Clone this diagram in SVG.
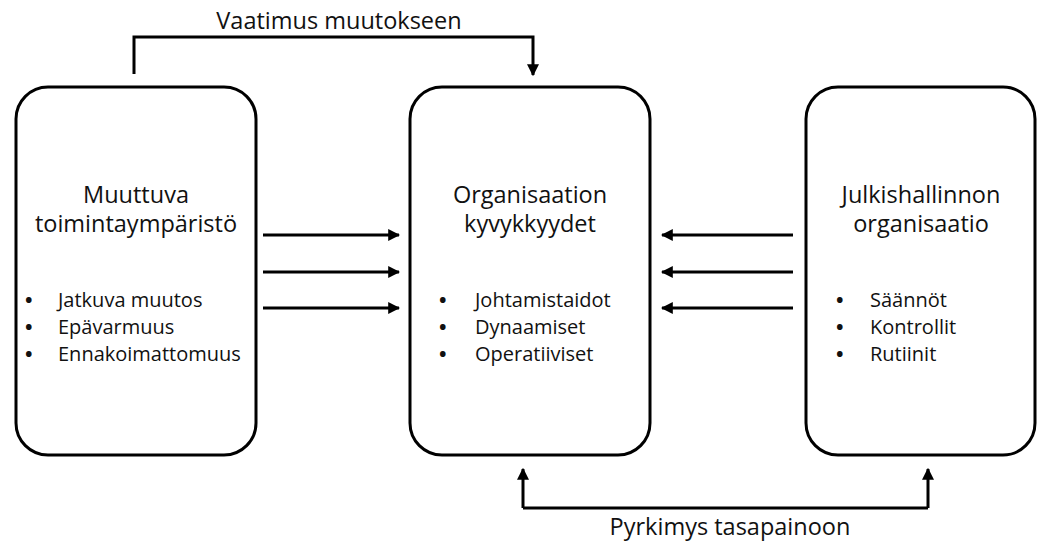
<svg xmlns="http://www.w3.org/2000/svg" width="1038" height="543" viewBox="0 0 1038 543">
<defs>
<marker id="ah" markerWidth="4" markerHeight="4" refX="3.6" refY="2" orient="auto" markerUnits="strokeWidth">
<path d="M0,0 L4,2 L0,4 Z" fill="#000"/>
</marker>
<style>
.box{fill:#fff;stroke:#000;stroke-width:3}
.con{fill:none;stroke:#000;stroke-width:3;marker-end:url(#ah)}
.ln{fill:none;stroke:#000;stroke-width:3}
.t{font-family:"Open Sans","Liberation Sans",sans-serif;fill:#111}
.h{font-size:23.5px;text-anchor:middle}
.b{font-size:20px}
.d{font-weight:bold}
</style>
</defs>
<rect width="1038" height="543" fill="#fff"/>
<g id="connectors">
<path class="con" d="M134,74 V37 H533 V75"/>
<path class="con" d="M523,508 V469"/>
<path class="ln" d="M523,508 H928"/>
<path class="con" d="M928,508 V469"/>
<path class="con" d="M263,235 H399"/>
<path class="con" d="M263,272 H399"/>
<path class="con" d="M263,308 H399"/>
<path class="con" d="M793,235 H662"/>
<path class="con" d="M793,272 H662"/>
<path class="con" d="M793,308 H662"/>
</g>
<g id="label-top"><text class="t h" x="339" y="29">Vaatimus muutokseen</text></g>
<g id="label-bottom"><text class="t h" x="730" y="535">Pyrkimys tasapainoon</text></g>
<g id="node-left">
<rect class="box" x="16" y="87" width="240" height="368" rx="32"/>
<text class="t h" x="136" y="203">Muuttuva<tspan x="136" dy="29">toimintaympäristö</tspan></text>
<text class="t b" y="307"><tspan class="d" x="25">•</tspan><tspan x="58">Jatkuva muutos</tspan></text>
<text class="t b" y="334"><tspan class="d" x="25">•</tspan><tspan x="58">Epävarmuus</tspan></text>
<text class="t b" y="361"><tspan class="d" x="25">•</tspan><tspan x="58">Ennakoimattomuus</tspan></text>
</g>
<g id="node-middle">
<rect class="box" x="410" y="87" width="240" height="368" rx="32"/>
<text class="t h" x="530" y="203">Organisaation<tspan x="530" dy="29">kyvykkyydet</tspan></text>
<text class="t b" y="307"><tspan class="d" x="439">•</tspan><tspan x="475">Johtamistaidot</tspan></text>
<text class="t b" y="334"><tspan class="d" x="439">•</tspan><tspan x="475">Dynaamiset</tspan></text>
<text class="t b" y="361"><tspan class="d" x="439">•</tspan><tspan x="475">Operatiiviset</tspan></text>
</g>
<g id="node-right">
<rect class="box" x="806" y="87" width="229" height="368" rx="32"/>
<text class="t h" x="921" y="203">Julkishallinnon<tspan x="921" dy="29">organisaatio</tspan></text>
<text class="t b" y="307"><tspan class="d" x="836">•</tspan><tspan x="870">Säännöt</tspan></text>
<text class="t b" y="334"><tspan class="d" x="836">•</tspan><tspan x="870">Kontrollit</tspan></text>
<text class="t b" y="361"><tspan class="d" x="836">•</tspan><tspan x="870">Rutiinit</tspan></text>
</g>
</svg>
